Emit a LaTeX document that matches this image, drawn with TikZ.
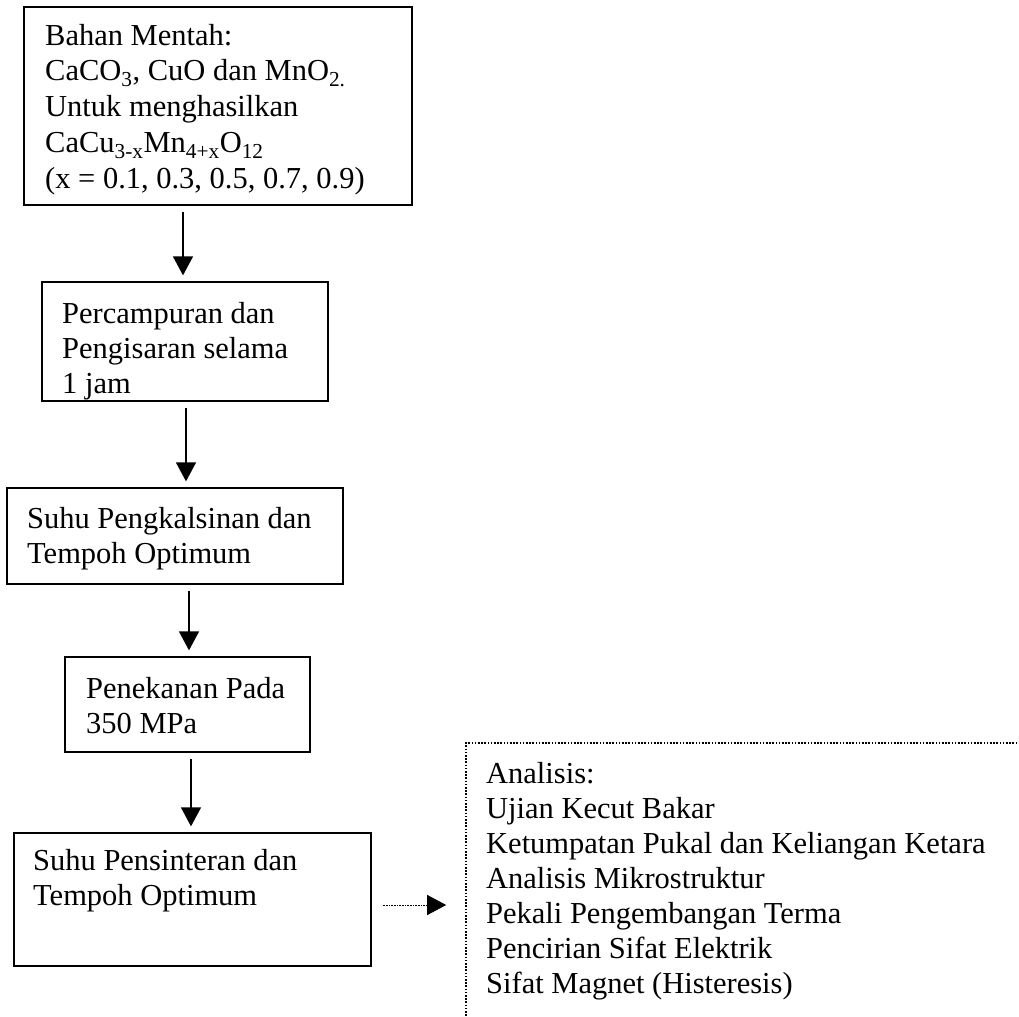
\documentclass[tikz,border=0pt]{standalone}
\usepackage{fontspec}
\setmainfont{Liberation Serif}
\usetikzlibrary{arrows.meta}
\tikzset{
  box/.style={draw, line width=1.3bp, rectangle, inner sep=0pt},
  txt/.style={anchor=north west, inner sep=0pt, align=left, font={\fontsize{30.6}{35.1}\selectfont}},
  arr/.style={line width=1.3bp, -{Triangle[width=20bp,length=19bp]}, shorten <=6bp, shorten >=6bp},
  dotarr/.style={line width=0.8bp, dash pattern=on 0.8bp off 0.8bp, -{Triangle[width=20bp,length=19bp]}},
  dotbox/.style={draw, line width=1.6bp, dash pattern=on 1.6bp off 1.6bp, rectangle, inner sep=0pt}
}
\newcommand{\st}{\rule{0pt}{25bp}}
\begin{document}
\begin{tikzpicture}[x=1bp,y=-1bp]
\clip (0,0) rectangle (1019,1017);
\fill[white] (0,0) rectangle (1019,1017);
% boxes
\node[box, minimum width=388bp, minimum height=198bp] (b1) at (218,106) {};
\node[box, minimum width=286bp, minimum height=119bp] (b2) at (185,341.5) {};
\node[box, minimum width=336bp, minimum height=96bp] (b3) at (175,536) {};
\node[box, minimum width=245bp, minimum height=95bp] (b4) at (187.5,704.5) {};
\node[box, minimum width=357bp, minimum height=133bp] (b5) at (192.5,899.5) {};
\node[dotbox, minimum width=574bp, minimum height=296bp] (an) at (753,891) {};
% texts
\node[txt, font={\fontsize{30.6}{35.9}\selectfont}] (t1) at (45,20) {\st Bahan Mentah:\\
CaCO\textsubscript{3}, CuO dan MnO\textsubscript{2.}\\
Untuk menghasilkan\\
CaCu\textsubscript{3-x}Mn\textsubscript{4+x}O\textsubscript{12}\\
(x = 0.1, 0.3, 0.5, 0.7, 0.9)};
\node[txt] (t2) at (62,298) {\st Percampuran dan\\ Pengisaran selama\\ 1 jam};
\node[txt] (t3) at (27,503) {\st Suhu Pengkalsinan dan\\ Tempoh Optimum};
\node[txt] (t4) at (86,673) {\st Penekanan Pada\\ 350 MPa};
\node[txt] (t5) at (33,845) {\st Suhu Pensinteran dan\\ Tempoh Optimum};
\node[txt] (t6) at (486,758) {\st Analisis:\\ Ujian Kecut Bakar\\ Ketumpatan Pukal dan Keliangan Ketara\\ Analisis Mikrostruktur\\ Pekali Pengembangan Terma\\ Pencirian Sifat Elektrik\\ Sifat Magnet (Histeresis)};
% connectors
\draw[arr] ([xshift=-35bp]b1.south) -- ([xshift=-35bp]b1.south |- b2.north);
\draw[arr] ([xshift=1bp]b2.south) -- ([xshift=1bp]b2.south |- b3.north);
\draw[arr] ([xshift=14bp]b3.south) -- ([xshift=14bp]b3.south |- b4.north);
\draw[arr] ([xshift=3.5bp]b4.south) -- ([xshift=3.5bp]b4.south |- b5.north);
\draw[dotarr, shorten <=11bp, shorten >=19bp] ([yshift=-5.5bp]b5.east) -- ([yshift=-5.5bp]b5.east -| an.west);
\end{tikzpicture}
\end{document}
